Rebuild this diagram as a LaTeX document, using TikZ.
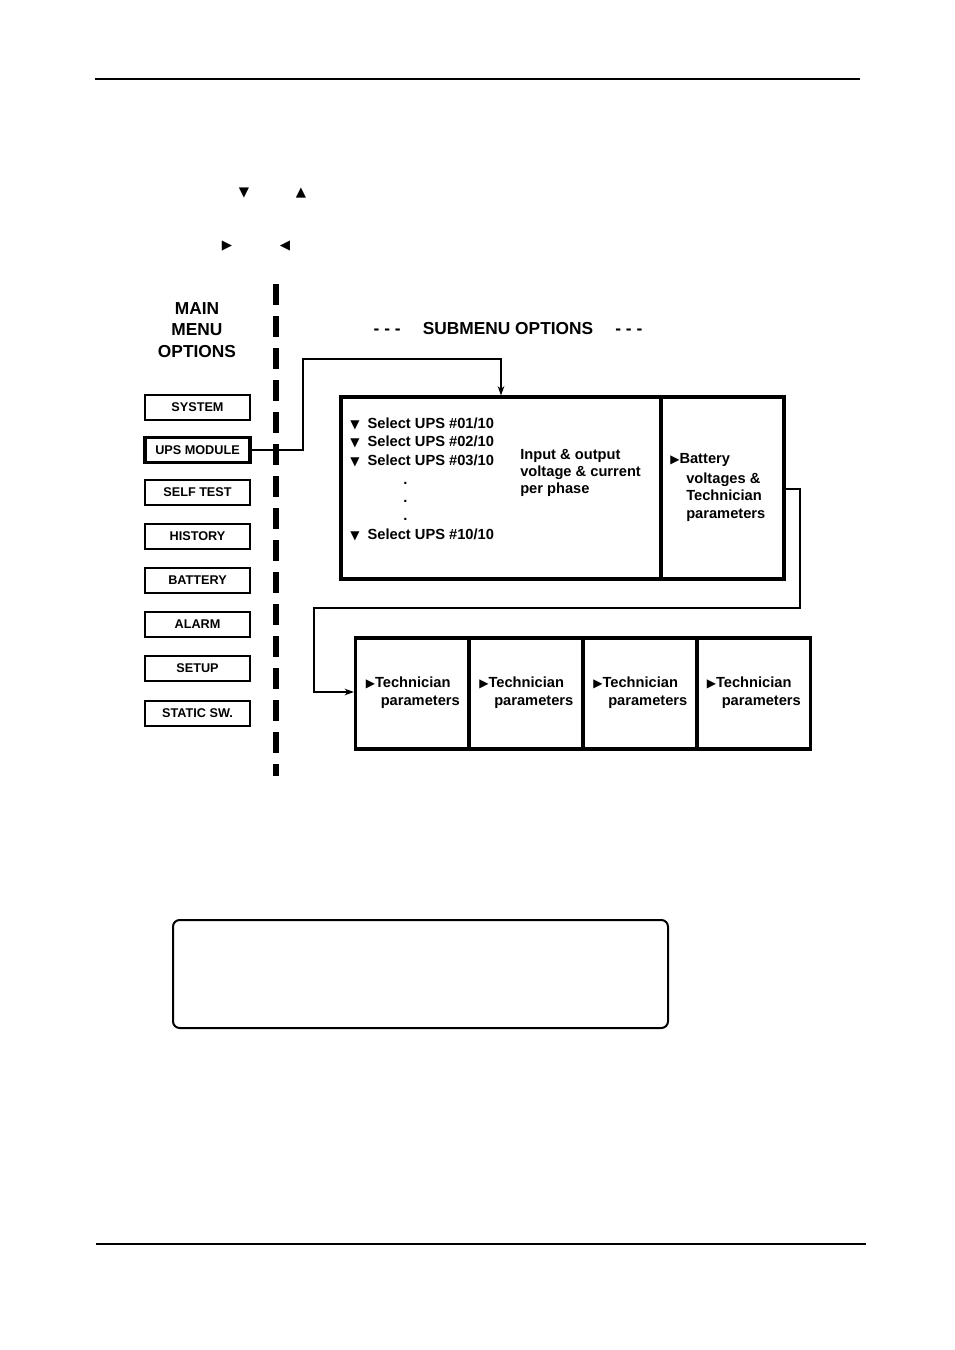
\documentclass[tikz,border=0pt]{standalone}
\usepackage{fontspec}
\usetikzlibrary{arrows.meta}
\setmainfont{Liberation Sans}
\newfontfamily\symf{DejaVu Sans}
\begin{document}
\begin{tikzpicture}[x=0.75pt,y=-0.75pt,
  menubox/.style={draw,line width=1.1pt,minimum width=105*0.75pt,minimum height=25*0.75pt,inner sep=0pt,font=\fontsize{9.5}{11}\selectfont\bfseries},
  txt/.style={inner sep=0pt,anchor=west,font=\fontsize{11}{13}\selectfont\bfseries},
  thick box/.style={draw,line width=2.4pt},
  conn/.style={line width=0.9pt,-{Stealth[length=7pt,width=5pt]}},
  tri/.style={inner sep=0pt,font=\symf\fontsize{10}{12}\selectfont}]
\useasboundingbox (0,0) rectangle (954,1350);
\draw[line width=1.2pt] (95,79) -- (860,79);
\draw[line width=1.2pt] (96,1244) -- (866,1244);
\node[tri] (t1) at (244,193) {▼};
\node[tri] (t2) at (301,193) {▲};
\node[tri] (t3) at (227,246) {▶};
\node[tri] (t4) at (285,246) {◀};
\draw[line width=5pt,dash pattern=on 16pt off 8pt] (276,284) -- (276,776);
\node[align=center,inner sep=0pt,font=\fontsize{13}{16}\selectfont\bfseries] (mt) at (197,330) {MAIN\\MENU\\OPTIONS};
\node[inner sep=0pt,font=\fontsize{13}{16}\selectfont\bfseries] (st) at (508,329) {- - -\quad\ SUBMENU OPTIONS\quad\ - - -};
\node[menubox] (m1) at (197.5,407.5) {SYSTEM};
\node[menubox,line width=2.6pt] (m2) at (197.5,450) {UPS MODULE};
\node[menubox] (m3) at (197.5,492.5) {SELF TEST};
\node[menubox] (m4) at (197.5,536.5) {HISTORY};
\node[menubox] (m5) at (197.5,580.5) {BATTERY};
\node[menubox] (m6) at (197.5,624.5) {ALARM};
\node[menubox] (m7) at (197.5,668.5) {SETUP};
\node[menubox] (m8) at (197.5,713.5) {STATIC SW.};
\node[thick box,minimum width=320*0.75pt,minimum height=182*0.75pt,inner sep=0pt] (sb) at (501,488) {};
\node[thick box,minimum width=123*0.75pt,minimum height=182*0.75pt,inner sep=0pt] (bb) at (722.5,488) {};
\foreach \y/\t in {424/01,442/02,461/03,535/10}
  \node[txt] at (350,\y) {{\symf\fontsize{9}{11}\selectfont▼}\ \ Select UPS \#\t/10};
\foreach \y in {483,501,519} \node[txt] at (403,\y) {.};
\node[txt,align=left] (io) at (520,473) {Input \& output\\voltage \& current\\per phase};
\node[txt] (b1) at (670,460) {{\symf\fontsize{9}{11}\selectfont▶}Battery};
\node[txt,align=left] (b2) at (686,497) {voltages \&\\Technician\\parameters};
\foreach \i/\x in {1/412.5,2/526,3/640,4/753.5}{
  \node[thick box,minimum width=114*0.75pt,minimum height=111*0.75pt,inner sep=0pt] (tb\i) at (\x,693.5) {};
  \node[txt] at (\x-47,683) {{\symf\fontsize{9}{11}\selectfont▶}Technician};
  \node[txt] at (\x-32,702) {parameters};
}
\draw[conn] (m2.east) -- (303,450) -- (303,359) -- (501,359) -- (sb.north);
\draw[conn] (bb.east |- 0,489) -- (800,489) -- (800,608) -- (314,608) -- (314,692) -- (tb1.west |- 0,692);
\draw[line width=1.5pt,rounded corners=5pt] (173,920) rectangle (668,1028);
\end{tikzpicture}
\end{document}
